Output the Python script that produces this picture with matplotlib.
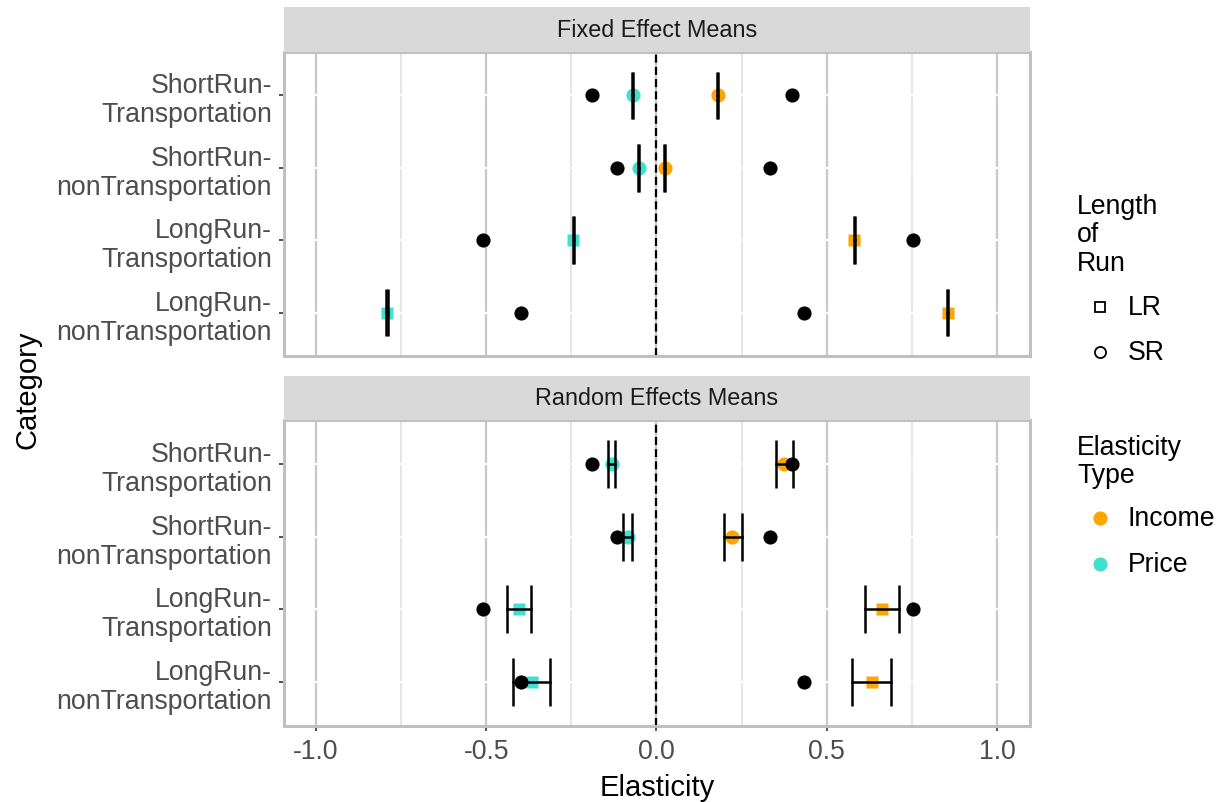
import matplotlib.pyplot as plt
from matplotlib.lines import Line2D
from matplotlib.patches import Rectangle

plt.rcParams["font.family"] = ["Liberation Sans", "DejaVu Sans"]

# ----------------------------
# Data
# ----------------------------

categories = ["ShortRun-\nTransportation", "ShortRun-\nnonTransportation",
              "LongRun-\nTransportation", "LongRun-\nnonTransportation"]
run_length = ["SR", "SR", "LR", "LR"]

panels = ["Fixed Effect Means", "Random Effects Means"]

# fixed effects: intervals are essentially zero width
fe_price = [-0.069, -0.052, -0.244, -0.791]
fe_price_lo = [-0.071, -0.054, -0.246, -0.793]
fe_price_hi = [-0.068, -0.051, -0.243, -0.790]
fe_income = [0.181, 0.024, 0.581, 0.855]
fe_income_lo = [0.179, 0.022, 0.579, 0.853]
fe_income_hi = [0.182, 0.025, 0.582, 0.856]

# random effects
re_price = [-0.130, -0.083, -0.405, -0.367]
re_price_lo = [-0.141, -0.097, -0.440, -0.420]
re_price_hi = [-0.123, -0.072, -0.368, -0.312]
re_income = [0.375, 0.223, 0.661, 0.632]
re_income_lo = [0.351, 0.199, 0.611, 0.575]
re_income_hi = [0.402, 0.250, 0.711, 0.690]

# black reference points (same in both panels)
ref_low = [-0.188, -0.117, -0.511, -0.399]
ref_high = [0.399, 0.334, 0.753, 0.433]

x_ticks = [-1.0, -0.5, 0.0, 0.5, 1.0]
x_minor = [-0.75, -0.25, 0.25, 0.75]

col_income = "#FFA500"
col_price = "#40E0D0"

# ----------------------------
# Figure layout
# ----------------------------

W, H = 1224, 803
fig = plt.figure(figsize=(W / 100, H / 100), dpi=100)


def fx(px):
    return px / W


def fy(px):
    return 1 - px / H


left, right = 284, 1030
panel_px = [(53, 357, 8), (421, 727, 377)]  # top, bottom, strip top

ypos = [4, 3, 2, 1]
shape = {"SR": "o", "LR": "s"}
msize = {"SR": 10.2, "LR": 9.2}
FS = 19.2

series = [
    [(fe_price, fe_price_lo, fe_price_hi, col_price),
     (fe_income, fe_income_lo, fe_income_hi, col_income)],
    [(re_price, re_price_lo, re_price_hi, col_price),
     (re_income, re_income_lo, re_income_hi, col_income)],
]

for i, (ptop, pbot, stop) in enumerate(panel_px):
    ax = fig.add_axes([fx(left), fy(pbot), fx(right) - fx(left), fy(ptop) - fy(pbot)])
    ax.set_xlim(-1.094, 1.097)
    ax.set_ylim(0.4, 4.6)

    # grid
    for v in x_minor:
        ax.axvline(v, color="#DEDEDE", lw=1.1, zorder=0)
    for v in x_ticks:
        ax.axvline(v, color="#C8C8C8", lw=1.6, zorder=0.5)
    for y in ypos:
        ax.axhline(y, color="white", lw=1.6, zorder=1)

    ax.axvline(0, color="black", lw=1.6, linestyle=(0, (3.6, 1.9)), zorder=2)

    for vals, lo, hi, col in series[i]:
        for k, y in enumerate(ypos):
            r = run_length[k]
            ax.plot(vals[k], y, marker=shape[r], ms=msize[r], color=col,
                    mec="none", zorder=3)
            ax.plot([lo[k], hi[k]], [y, y], color="black", lw=1.8, zorder=4)
            ax.vlines([lo[k], hi[k]], y - 0.33, y + 0.33, color="black",
                      lw=1.8, zorder=4)

    ax.plot(ref_low, ypos, "o", ms=10.2, color="black", mec="none", zorder=5)
    ax.plot(ref_high, ypos, "o", ms=10.2, color="black", mec="none", zorder=5)

    ax.set_yticks(ypos)
    ax.set_yticklabels(categories, fontsize=FS, color="#4D4D4D",
                       linespacing=1.15, ha="right")
    ax.set_xticks(x_ticks)
    if i == 1:
        ax.set_xticklabels(["-1.0", "-0.5", "0.0", "0.5", "1.0"],
                           fontsize=FS, color="#4D4D4D")
        ax.tick_params(axis="x", length=3.6, width=1.2, color="#333333", pad=5)
    else:
        ax.tick_params(axis="x", length=0, labelbottom=False)
    ax.tick_params(axis="y", length=3.6, width=1.2, color="#333333", pad=5)

    for s in ax.spines.values():
        s.set_color("#C0C0C0")
        s.set_linewidth(2.2)
        s.set_zorder(6)

    # strip
    fig.add_artist(Rectangle((fx(left), fy(ptop)), fx(right) - fx(left),
                             fy(stop) - fy(ptop), transform=fig.transFigure,
                             facecolor="#D9D9D9", edgecolor="none"))
    fig.text(fx((left + right) / 2), fy((stop + ptop) / 2), panels[i],
             ha="center", va="center", fontsize=16.8, color="#1A1A1A")

# axis titles
fig.text(fx(657), fy(788), "Elasticity", ha="center", va="center", fontsize=21)
fig.text(fx(28), fy(390), "Category", ha="center", va="center",
         rotation=90, fontsize=21)

# ----------------------------
# Legends (manual)
# ----------------------------

leg_x_title = 1077
leg_x_mark = 1100
leg_x_lab = 1128

fig.text(fx(leg_x_title), fy(194), "Length\nof\nRun", ha="left", va="top",
         fontsize=FS, linespacing=1.12)
for lab, y in zip(["LR", "SR"], [308, 353]):
    fig.add_artist(Line2D([fx(leg_x_mark)], [fy(y)], marker=shape[lab],
                          ms=7.5 if lab == "LR" else 8, mfc="none",
                          mec="black", mew=1.3, transform=fig.transFigure))
    fig.text(fx(leg_x_lab), fy(y), lab, ha="left", va="center", fontsize=FS)

fig.text(fx(leg_x_title), fy(435), "Elasticity\nType", ha="left", va="top",
         fontsize=FS, linespacing=1.12)
for lab, col, y in zip(["Income", "Price"], [col_income, col_price], [519, 565]):
    fig.add_artist(Line2D([fx(leg_x_mark)], [fy(y)], marker="o", ms=10.2,
                          color=col, mec="none", transform=fig.transFigure))
    fig.text(fx(leg_x_lab), fy(y), lab, ha="left", va="center", fontsize=FS)

fig.savefig("out.png", dpi=100)
